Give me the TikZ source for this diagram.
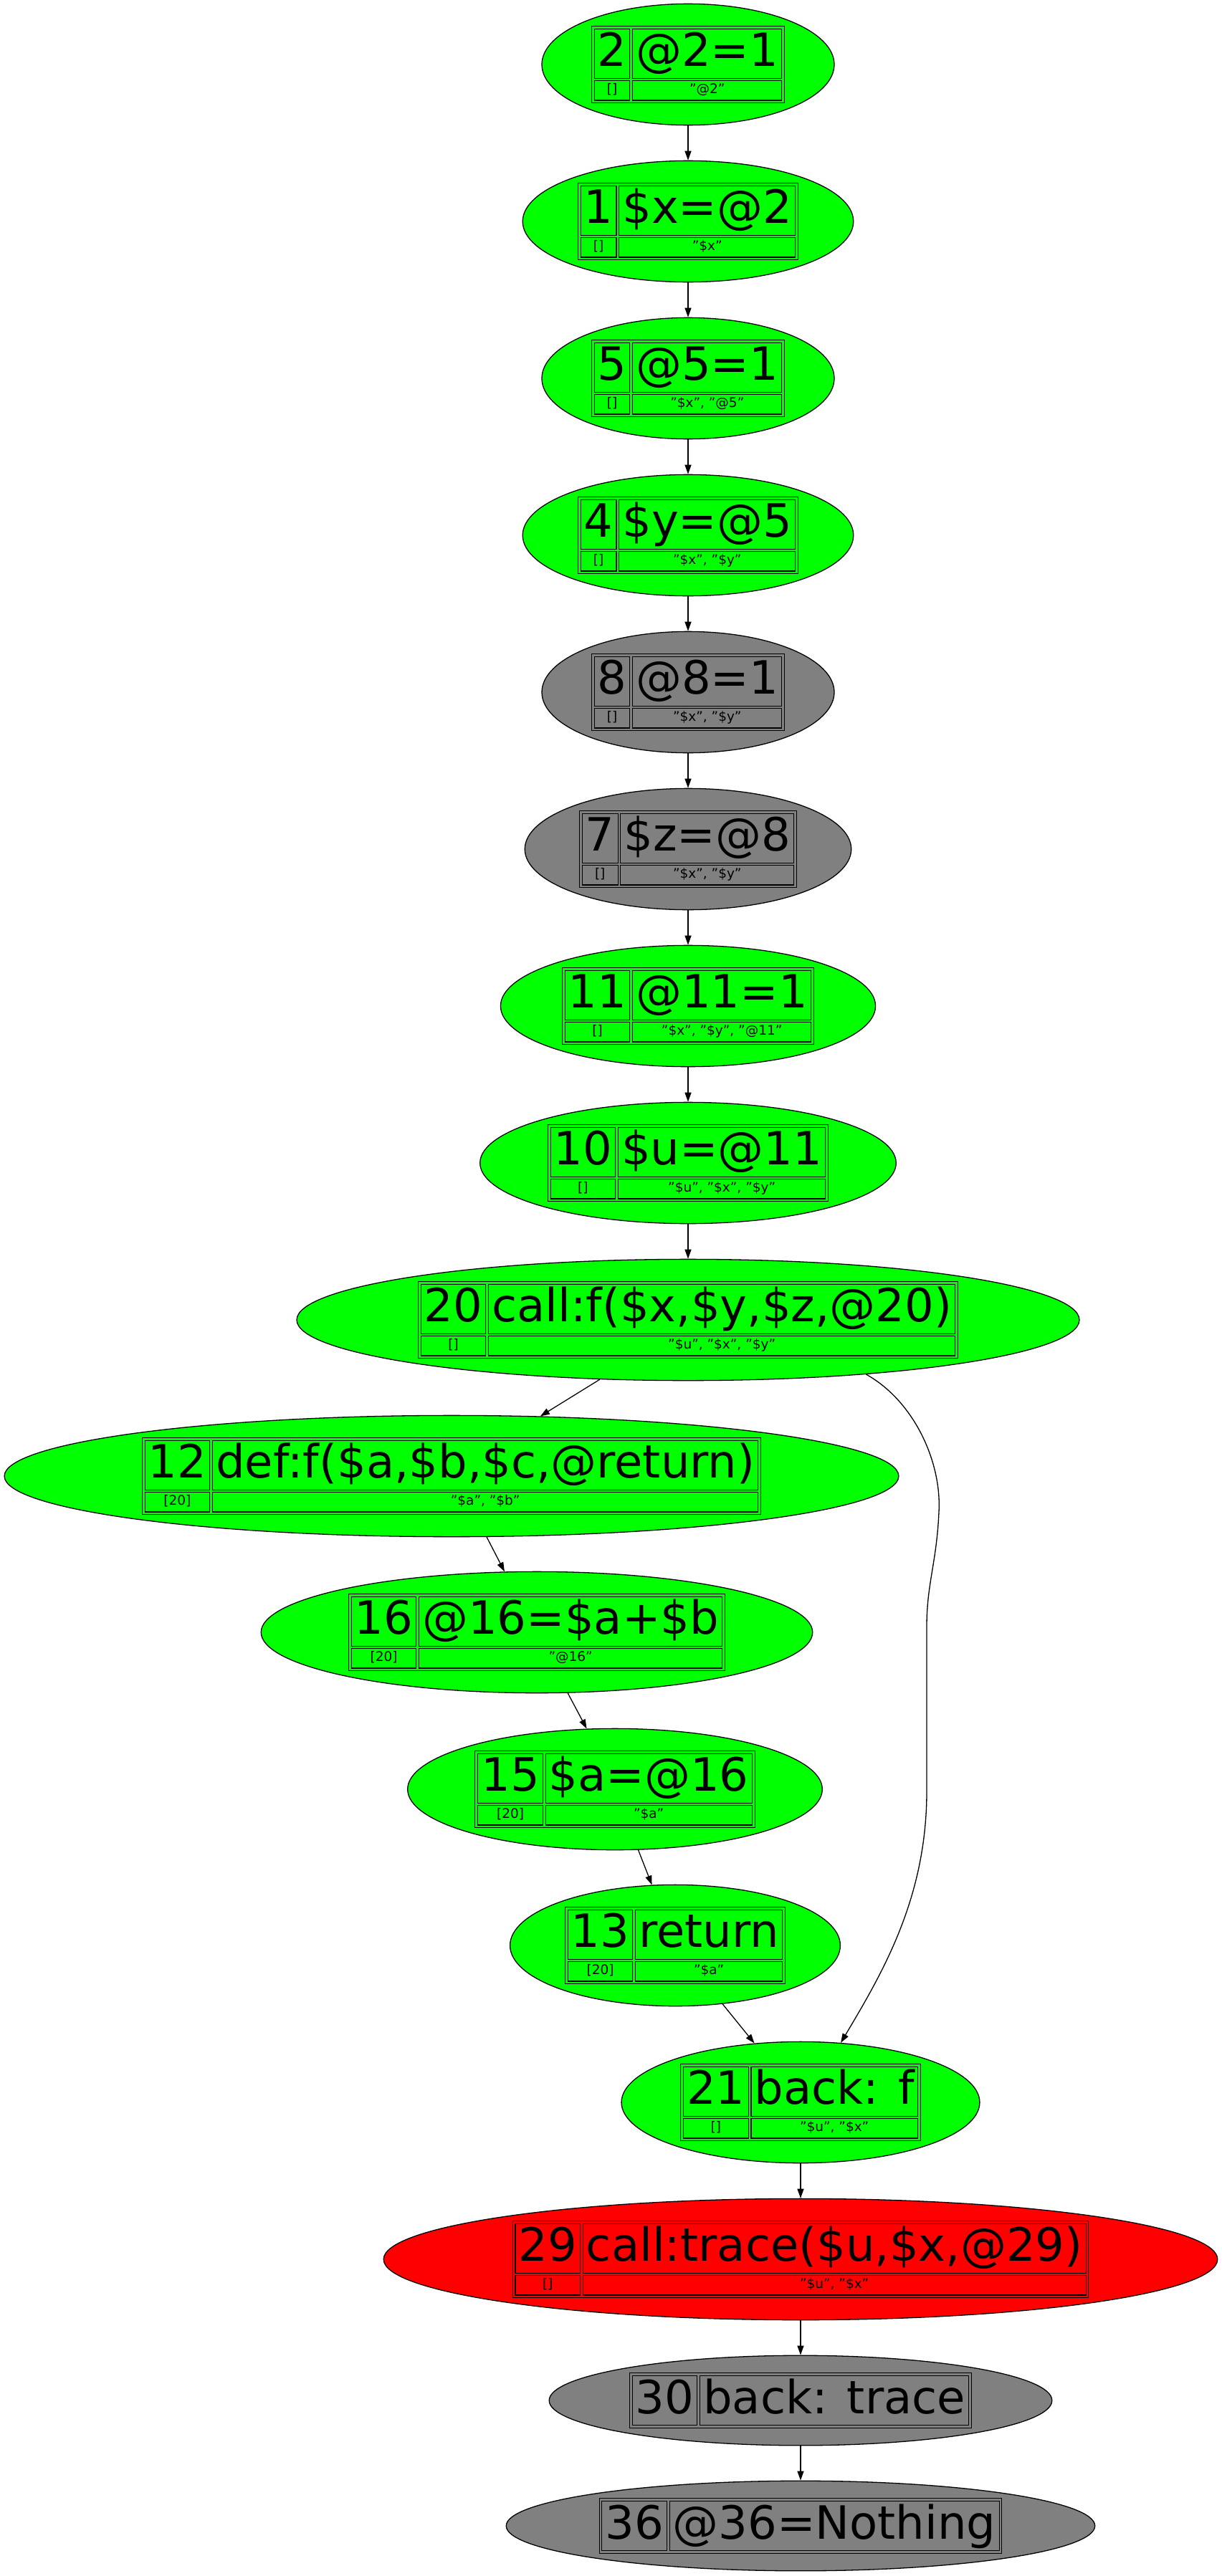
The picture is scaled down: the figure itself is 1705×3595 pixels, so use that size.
\documentclass[tikz,border=0pt]{standalone}
\usepackage{fontspec}
\setmainfont{DejaVu Sans}
\usetikzlibrary{shapes.geometric,arrows.meta}

\definecolor{stmtgreen}{RGB}{0,255,0}
\definecolor{stmtgray}{RGB}{128,128,128}
\definecolor{stmtred}{RGB}{255,0,0}

\def\bigtxt{\fontsize{64pt}{70pt}\selectfont}
\def\smalltxt{\fontsize{18.5pt}{22pt}\selectfont}
\def\cellgap{2.8pt}
\def\topstrut{\rule[-16pt]{0pt}{68pt}}
\def\botstrut{\rule[-8.5pt]{0pt}{26pt}}
\setlength\fboxrule{1.05pt}
\newsavebox\numbox
\newsavebox\txtbox

% one table cell: text width, strut, text
\newcommand{\cellbox}[3]{{\setlength\fboxsep{0pt}\fbox{\makebox[\dimexpr#1+8pt\relax]{#2#3}}}}
% statement table: number, statement, scope, variables
\newcommand{\stmt}[4]{%
  \sbox\numbox{\bigtxt #1}\sbox\txtbox{\bigtxt #2}%
  {\setlength\fboxsep{\cellgap}\fbox{\vbox{\offinterlineskip
    \hbox{\cellbox{\wd\numbox}{\topstrut}{\bigtxt #1}\hskip\cellgap\cellbox{\wd\txtbox}{\topstrut}{\bigtxt #2}}%
    \vskip\cellgap
    \hbox{\cellbox{\wd\numbox}{\botstrut}{\smalltxt #3}\hskip\cellgap\cellbox{\wd\txtbox}{\botstrut}{\smalltxt #4}}}}}}
% statement table without second row
\newcommand{\stmtone}[2]{%
  \sbox\numbox{\bigtxt #1}\sbox\txtbox{\bigtxt #2}%
  {\setlength\fboxsep{\cellgap}\fbox{%
    \hbox{\cellbox{\wd\numbox}{\topstrut}{\bigtxt #1}\hskip\cellgap\cellbox{\wd\txtbox}{\topstrut}{\bigtxt #2}}}}}

\begin{document}
\begin{tikzpicture}[x=1pt, y=-1pt,
    stmt/.style={ellipse, draw, line width=1.3pt, inner xsep=9pt, inner ysep=5.5pt},
    live/.style={stmt, fill=stmtgreen},
    dead/.style={stmt, fill=stmtgray},
    fail/.style={stmt, fill=stmtred},
    flow/.style={line width=1.3pt, -{Triangle[length=13pt,width=9pt]}}]
  \useasboundingbox (0,0) rectangle (1705,3595);

  \node[live] (n2) at (960,90) {\stmt{2}{@2=1}{[]}{"@2"}};
  \node[live] (n1) at (960,309) {\stmt{1}{\$x=@2}{[]}{"\$x"}};
  \node[live] (n5) at (960,528) {\stmt{5}{@5=1}{[]}{"\$x", "@5"}};
  \node[live] (n4) at (960,747) {\stmt{4}{\$y=@5}{[]}{"\$x", "\$y"}};
  \node[dead] (n8) at (960,966) {\stmt{8}{@8=1}{[]}{"\$x", "\$y"}};
  \node[dead] (n7) at (960,1185) {\stmt{7}{\$z=@8}{[]}{"\$x", "\$y"}};
  \node[live] (n11) at (960,1404) {\stmt{11}{@11=1}{[]}{"\$x", "\$y", "@11"}};
  \node[live] (n10) at (960,1623) {\stmt{10}{\$u=@11}{[]}{"\$u", "\$x", "\$y"}};
  \node[live] (n20) at (960,1842) {\stmt{20}{call:f(\$x,\$y,\$z,@20)}{[]}{"\$u", "\$x", "\$y"}};
  \node[live] (n12) at (630,2060) {\stmt{12}{def:f(\$a,\$b,\$c,@return)}{[20]}{"\$a", "\$b"}};
  \node[live] (n16) at (749,2278) {\stmt{16}{@16=\$a+\$b}{[20]}{"@16"}};
  \node[live] (n15) at (858,2497) {\stmt{15}{\$a=@16}{[20]}{"\$a"}};
  \node[live] (n13) at (942,2715) {\stmt{13}{return}{[20]}{"\$a"}};
  \node[live] (n21) at (1117,2934) {\stmt{21}{back: f}{[]}{"\$u", "\$x"}};
  \node[fail] (n29) at (1117,3153) {\stmt{29}{call:trace(\$u,\$x,@29)}{[]}{"\$u", "\$x"}};
  \node[dead] (n30) at (1117,3350) {\stmtone{30}{back: trace}};
  \node[dead] (n36) at (1117,3525) {\stmtone{36}{@36=Nothing}};

  \draw[flow] (n2) -- (n1);
  \draw[flow] (n1) -- (n5);
  \draw[flow] (n5) -- (n4);
  \draw[flow] (n4) -- (n8);
  \draw[flow] (n8) -- (n7);
  \draw[flow] (n7) -- (n11);
  \draw[flow] (n11) -- (n10);
  \draw[flow] (n10) -- (n20);
  \draw[flow] (n20.214) -- (n12.34);
  \draw[flow] (n12.-60) -- (n16.118);
  \draw[flow] (n16.-63) -- (n15.115);
  \draw[flow] (n15.-69) -- (n13.111);
  \draw[flow] (n13.-51) -- (n21.128);
  \draw[flow] (n20.-17) .. controls (1275,1955) and (1314,2040) .. (1310,2110)
    .. controls (1307,2180) and (1293,2210) .. (1293,2270) -- (1293,2500)
    .. controls (1293,2650) and (1230,2755) .. (n21.56);
  \draw[flow] (n21) -- (n29);
  \draw[flow] (n29) -- (n30);
  \draw[flow] (n30) -- (n36);
\end{tikzpicture}
\end{document}
